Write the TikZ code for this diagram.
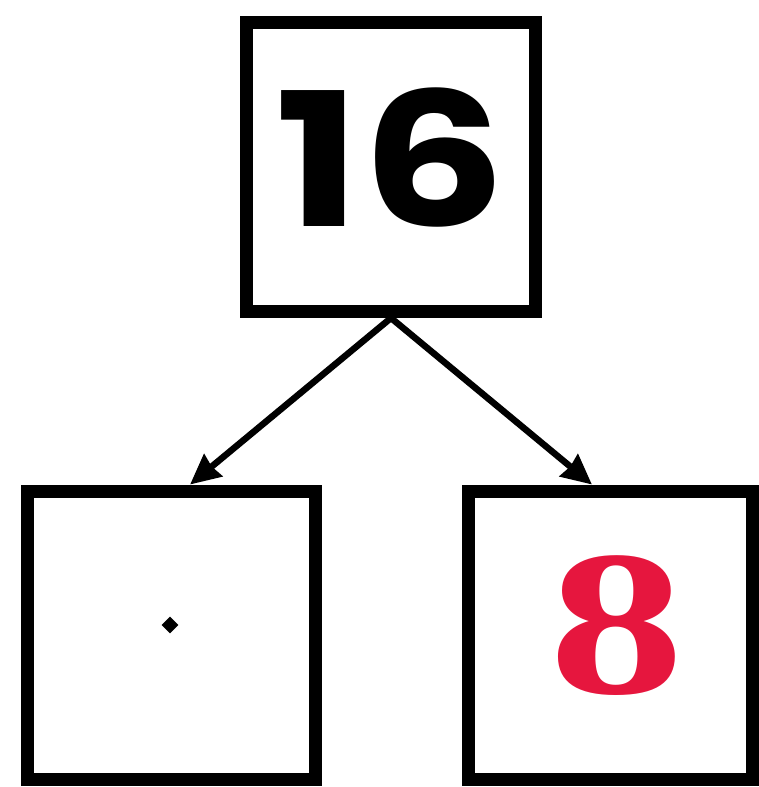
\documentclass[tikz,border=0pt]{standalone}
\usepackage{fontspec}
\usetikzlibrary{arrows.meta,shapes.geometric}
\newfontfamily\topfont{Poppins}
\newfontfamily\redfont{Liberation Serif}
\definecolor{eightred}{RGB}{230,22,62}
\tikzset{
    box/.style={draw,line width=0.26cm,minimum width=5.78cm,minimum height=5.78cm,inner sep=0pt},
    branch/.style={line width=0.13cm,-{Stealth[length=17pt,width=16pt,inset=1pt]}}
}

\begin{document}
\begin{tikzpicture}[x=0.02cm,y=-0.02cm]
                \useasboundingbox (0,0) rectangle (758,787);
                \node[box](top)at(391,167){};
                \node[box](left)at(171.5,635.5){};
                \node[box,minimum width=5.7cm](right)at(610.5,635.5){};
                \node[font=\topfont\bfseries\fontsize{106}{106}\selectfont,xscale=1.22](sixteen)at(391,157){16};
                \node[font=\redfont\bfseries\fontsize{118}{118}\selectfont,text=eightred,xscale=1.3](eight)at(617,626){8};
                \node[diamond,fill,inner sep=0pt,minimum size=0.34cm](dot)at(170,625){};
                \draw[branch](top.south)--(left.83);
                \draw[branch](top.south)--(right.97);
            \end{tikzpicture}
\end{document}
